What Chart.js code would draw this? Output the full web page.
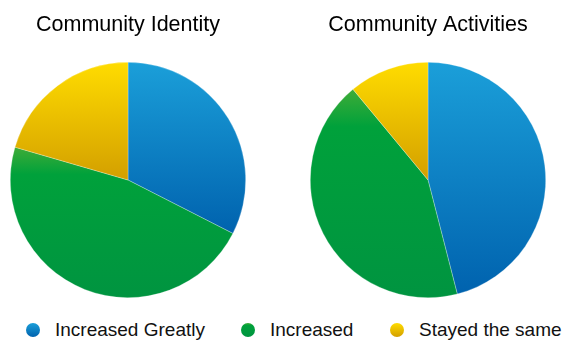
<!DOCTYPE html>
<html>
<head>
<meta charset="utf-8">
<script src="https://cdn.jsdelivr.net/npm/chart.js@4"></script>
<style>
  html, body { margin: 0; padding: 0; background: #fff; }
  #wrap { position: relative; width: 565px; height: 343px; font-family: "Liberation Sans", Arial, Helvetica, sans-serif; }
  .pie { position: absolute; top: 0; width: 256px; height: 298px; }
  #legend .item { position: absolute; top: 320px; height: 20px; display: flex; align-items: center; font-size: 19px; color: #111; white-space: nowrap; }
  #legend .dot { width: 14px; height: 14px; border-radius: 50%; margin-right: 15px; }
</style>
</head>
<body>
<div id="wrap">
  <div class="pie" style="left:0"><canvas id="identityChart"></canvas></div>
  <div class="pie" style="left:300px"><canvas id="activitiesChart"></canvas></div>
  <div id="legend"></div>
</div>
<script>
const categories = ["Increased Greatly", "Increased", "Stayed the same"];
const identityValues = [32.5, 47, 20.5];
const activitiesValues = [46, 43, 11];
const chartTitles = ["Community Identity", "Community Activities"];

// vertical gradient stops per category (top -> bottom of each slice)
const gradientStops = [
  [[0, "#1b9fd9"], [1, "#0062ae"]],
  [[0, "#3fac37"], [0.18, "#00a13b"], [1, "#009440"]],
  [[0, "#ffdc00"], [1, "#d39f00"]]
];
const legendLeft = [26, 241, 390];

// fill each slice with a gradient spanning its own vertical extent
function sliceFill(ctx) {
  const chart = ctx.chart;
  const area = chart.chartArea;
  const stops = gradientStops[ctx.dataIndex];
  if (!area) return stops[0][1];
  const cx = (area.left + area.right) / 2;
  const cy = (area.top + area.bottom) / 2;
  const r = Math.min(area.right - area.left, area.bottom - area.top) / 2;
  const data = ctx.dataset.data;
  const total = data.reduce((a, b) => a + b, 0);
  let a0 = -Math.PI / 2;
  for (let i = 0; i < ctx.dataIndex; i++) a0 += data[i] / total * Math.PI * 2;
  const a1 = a0 + data[ctx.dataIndex] / total * Math.PI * 2;
  const ys = [cy, cy + r * Math.sin(a0), cy + r * Math.sin(a1)];
  if (a0 <= -Math.PI / 2 + 1e-6 || a1 >= Math.PI * 1.5 - 1e-6) ys.push(cy - r);
  if (a0 <= Math.PI / 2 && a1 >= Math.PI / 2) ys.push(cy + r);
  const top = Math.min(...ys), bottom = Math.max(...ys);
  const g = chart.ctx.createLinearGradient(0, top, 0, bottom);
  stops.forEach(s => g.addColorStop(s[0], s[1]));
  return g;
}

function drawPie(id, title, values) {
  return new Chart(document.getElementById(id), {
    type: "pie",
    data: {
      labels: categories,
      datasets: [{
        data: values,
        backgroundColor: sliceFill,
        borderColor: "rgba(255,255,255,0.45)",
        borderWidth: 0.6
      }]
    },
    options: {
      responsive: true,
      maintainAspectRatio: false,
      animation: false,
      layout: { padding: 0 },
      plugins: {
        legend: { display: false },
        tooltip: { enabled: false },
        title: {
          display: true,
          text: title,
          color: "#000",
          font: { family: "'Liberation Sans', Arial, Helvetica, sans-serif", size: 21.5, weight: "normal" },
          padding: { top: 12.6, bottom: 23.6 }
        }
      }
    }
  });
}

drawPie("identityChart", chartTitles[0], identityValues);
drawPie("activitiesChart", chartTitles[1], activitiesValues);

const legend = document.getElementById("legend");
categories.forEach((label, i) => {
  const item = document.createElement("div");
  item.className = "item";
  item.style.left = legendLeft[i] + "px";
  const dot = document.createElement("span");
  dot.className = "dot";
  dot.style.background = "linear-gradient(" + gradientStops[i].map(s => s[1] + " " + (s[0] * 100) + "%").join(", ") + ")";
  const text = document.createElement("span");
  text.textContent = label;
  item.appendChild(dot);
  item.appendChild(text);
  legend.appendChild(item);
});
</script>
</body>
</html>
